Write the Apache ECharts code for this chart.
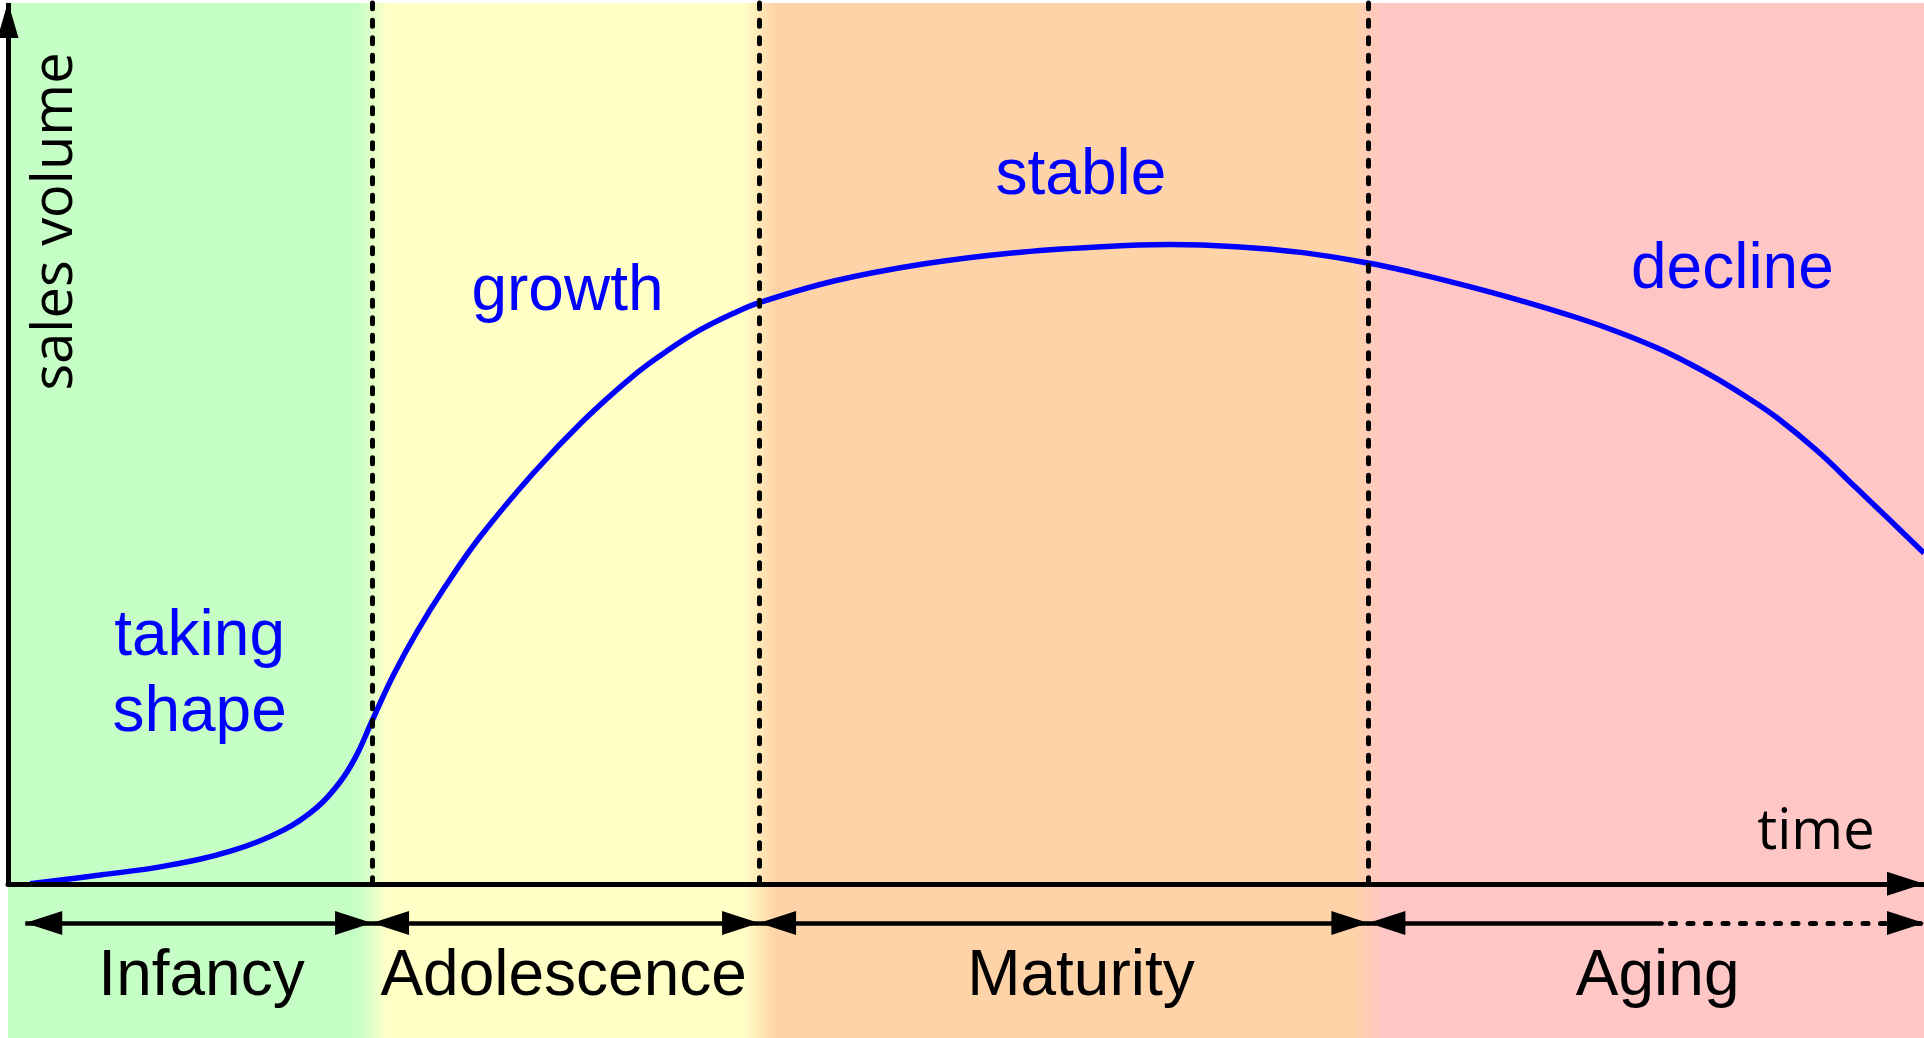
<!DOCTYPE html>
<html>
<head>
<meta charset="utf-8">
<title>Product life cycle</title>
<script src="https://cdn.jsdelivr.net/npm/echarts@6/dist/echarts.min.js"></script>
<style>
  html, body { margin: 0; padding: 0; background: #fff; }
  #main { width: 1924px; height: 1038px; }
</style>
</head>
<body>
<div id="main"></div>
<script>
// axis ranges (the part of the sales axis below 0 is the band under the time axis)
var timeMin = 0
var timeMax = 100
var salesMin = -17.5
var salesMax = 100

// sales curve
var curveTime = [1.15, 4.8, 8.3, 11.74, 14.35, 16.13, 17.33, 18.16, 19.0, 20.09, 21.35, 22.81, 24.63, 27.4, 30.01, 32.62, 34.39, 36.12, 37.84, 39.25, 43.11, 47.76, 52.4, 57.1, 60.6, 64.1, 67.59, 70.98, 73.17, 75.73, 78.86, 81.99, 84.13, 86.12, 87.79, 89.25, 90.92, 92.33, 94.41, 96.5, 98.23, 100]
var curveSales = [0, 1.0, 2.07, 3.8, 6.07, 8.69, 11.56, 14.47, 18.49, 23.6, 28.64, 33.72, 39.37, 46.59, 52.55, 57.65, 60.49, 62.88, 64.75, 66.01, 68.44, 70.37, 71.63, 72.34, 72.57, 72.34, 71.66, 70.48, 69.48, 68.12, 66.28, 64.21, 62.57, 60.8, 59.02, 57.27, 55.02, 52.91, 49.19, 44.87, 41.27, 37.56]

// phases of the life cycle
var phaseNames = ['Infancy', 'Adolescence', 'Maturity', 'Aging']
var phaseBounds = [0.9, 19.0, 39.2, 71.0, 100]
var agingSolidEnd = 86.3
var phaseLabelX = [10.1, 29.0, 56.0, 86.1]

// notes along the curve
var stageNames = ['taking\nshape', 'growth', 'stable', 'decline']
var stageLabelX = [10.0, 29.2, 56.0, 90.0]
var stageLabelY = [23.7, 67.2, 80.3, 69.7]

var phaseColors = ['#c6ffc6', '#ffffc6', '#ffd3a8', '#ffc6c6']

var myChart = echarts.init(document.getElementById('main'))

var arrowRowY = -4.44
var phaseLabelY = -10.56
var blend = 0.8
var arrowHead = { symbol: 'triangle', symbolSize: [24, 37], symbolOffset: [0, 18.5] }
var noHead = { symbol: 'none' }

function pt (x, y, extra) {
  return Object.assign({ coord: [x, y] }, extra || {})
}

// background bands with soft edges
var bgData = []
for (var i = 0; i < phaseNames.length; i++) {
  bgData.push([
    { xAxis: i === 0 ? timeMin : phaseBounds[i], itemStyle: { color: phaseColors[i] } },
    { xAxis: i === phaseNames.length - 1 ? timeMax : phaseBounds[i + 1] }
  ])
}
for (var j = 1; j < phaseNames.length; j++) {
  bgData.push([
    {
      xAxis: phaseBounds[j] - blend,
      itemStyle: {
        color: {
          type: 'linear', x: 0, y: 0, x2: 1, y2: 0,
          colorStops: [{ offset: 0, color: phaseColors[j - 1] }, { offset: 1, color: phaseColors[j] }]
        }
      }
    },
    { xAxis: phaseBounds[j] + blend }
  ])
}

// y axis arrow, dotted dividers, phase arrows
var dotted = { color: '#000', width: 5, type: [6, 11.5], cap: 'round' }
var solid = { color: '#000', width: 4.5, type: 'solid' }
var lineData = []
var yAxisStyle = { color: '#000', width: 5, type: 'solid' }
lineData.push([
  pt(0, 0, Object.assign({ lineStyle: yAxisStyle }, noHead)),
  pt(0, salesMax, { symbol: 'triangle', symbolSize: [21, 36], symbolOffset: [0, 17], lineStyle: yAxisStyle })
])
for (var k = 1; k < phaseNames.length; k++) {
  lineData.push([pt(phaseBounds[k], 0, Object.assign({ lineStyle: dotted }, noHead)), pt(phaseBounds[k], salesMax, noHead)])
}
for (var m = 0; m < phaseNames.length; m++) {
  var last = m === phaseNames.length - 1
  lineData.push([
    pt(phaseBounds[m], arrowRowY, Object.assign({ lineStyle: Object.assign({ cap: last ? 'round' : 'butt' }, solid) }, arrowHead)),
    pt(last ? agingSolidEnd : phaseBounds[m + 1], arrowRowY, last ? noHead : arrowHead)
  ])
}
lineData.push([
  pt(agingSolidEnd, arrowRowY, Object.assign({ lineStyle: { color: '#000', width: 5, type: [5, 12.5], cap: 'round', dashOffset: -9 } }, noHead)),
  pt(timeMax, arrowRowY, arrowHead)
])

// texts
var textData = []
var arialBlue = { fontFamily: 'Liberation Sans', fontSize: 64, color: '#0000ff', lineHeight: 76 }
var arialBlack = { fontFamily: 'Liberation Sans', fontSize: 64, color: '#000000' }
var sansBlack = { fontFamily: 'Open Sans', fontSize: 56, color: '#000000' }
function addText (x, y, text, style) {
  textData.push({
    value: [x, y],
    label: Object.assign({ show: true, position: 'inside', align: 'center', verticalAlign: 'middle', opacity: 1, formatter: text }, style)
  })
}
stageNames.forEach(function (n, i) { addText(stageLabelX[i], stageLabelY[i], n, arialBlue) })
phaseNames.forEach(function (n, i) { addText(phaseLabelX[i], phaseLabelY, n, arialBlack) })
addText(2.52, 75.2, 'sales volume', Object.assign({ rotate: 90 }, sansBlack))
addText(94.36, 5.8, 'time', sansBlack)

myChart.setOption({
  animation: false,
  grid: { left: 8, right: 0, top: 3, bottom: 0, containLabel: false, outerBoundsMode: 'none' },
  xAxis: {
    type: 'value',
    min: timeMin,
    max: timeMax,
    z: 5,
    axisLine: {
      onZero: true,
      symbol: ['none', 'triangle'],
      symbolSize: [24, 37],
      symbolOffset: [0, -18.5],
      lineStyle: { color: '#000', width: 5 }
    },
    axisTick: { show: false },
    axisLabel: { show: false },
    splitLine: { show: false }
  },
  yAxis: {
    type: 'value',
    min: salesMin,
    max: salesMax,
    show: false,
    splitLine: { show: false }
  },
  series: [
    {
      name: 'background',
      type: 'line',
      data: [],
      silent: true,
      z: 1,
      markArea: { silent: true, label: { show: false }, data: bgData }
    },
    {
      name: 'sales',
      type: 'line',
      data: curveTime.map(function (t, i) { return [t, curveSales[i]] }),
      smooth: 0.4,
      showSymbol: false,
      silent: true,
      z: 3,
      lineStyle: { color: '#0000ff', width: 5.5 }
    },
    {
      name: 'guides',
      type: 'line',
      data: [],
      silent: true,
      z: 4,
      markLine: {
        silent: true,
        animation: false,
        label: { show: false },
        emphasis: { disabled: true },
        data: lineData
      }
    },
    {
      name: 'texts',
      type: 'scatter',
      symbolSize: 0,
      silent: true,
      z: 6,
      itemStyle: { opacity: 1 },
      data: textData
    }
  ]
})
</script>
</body>
</html>
